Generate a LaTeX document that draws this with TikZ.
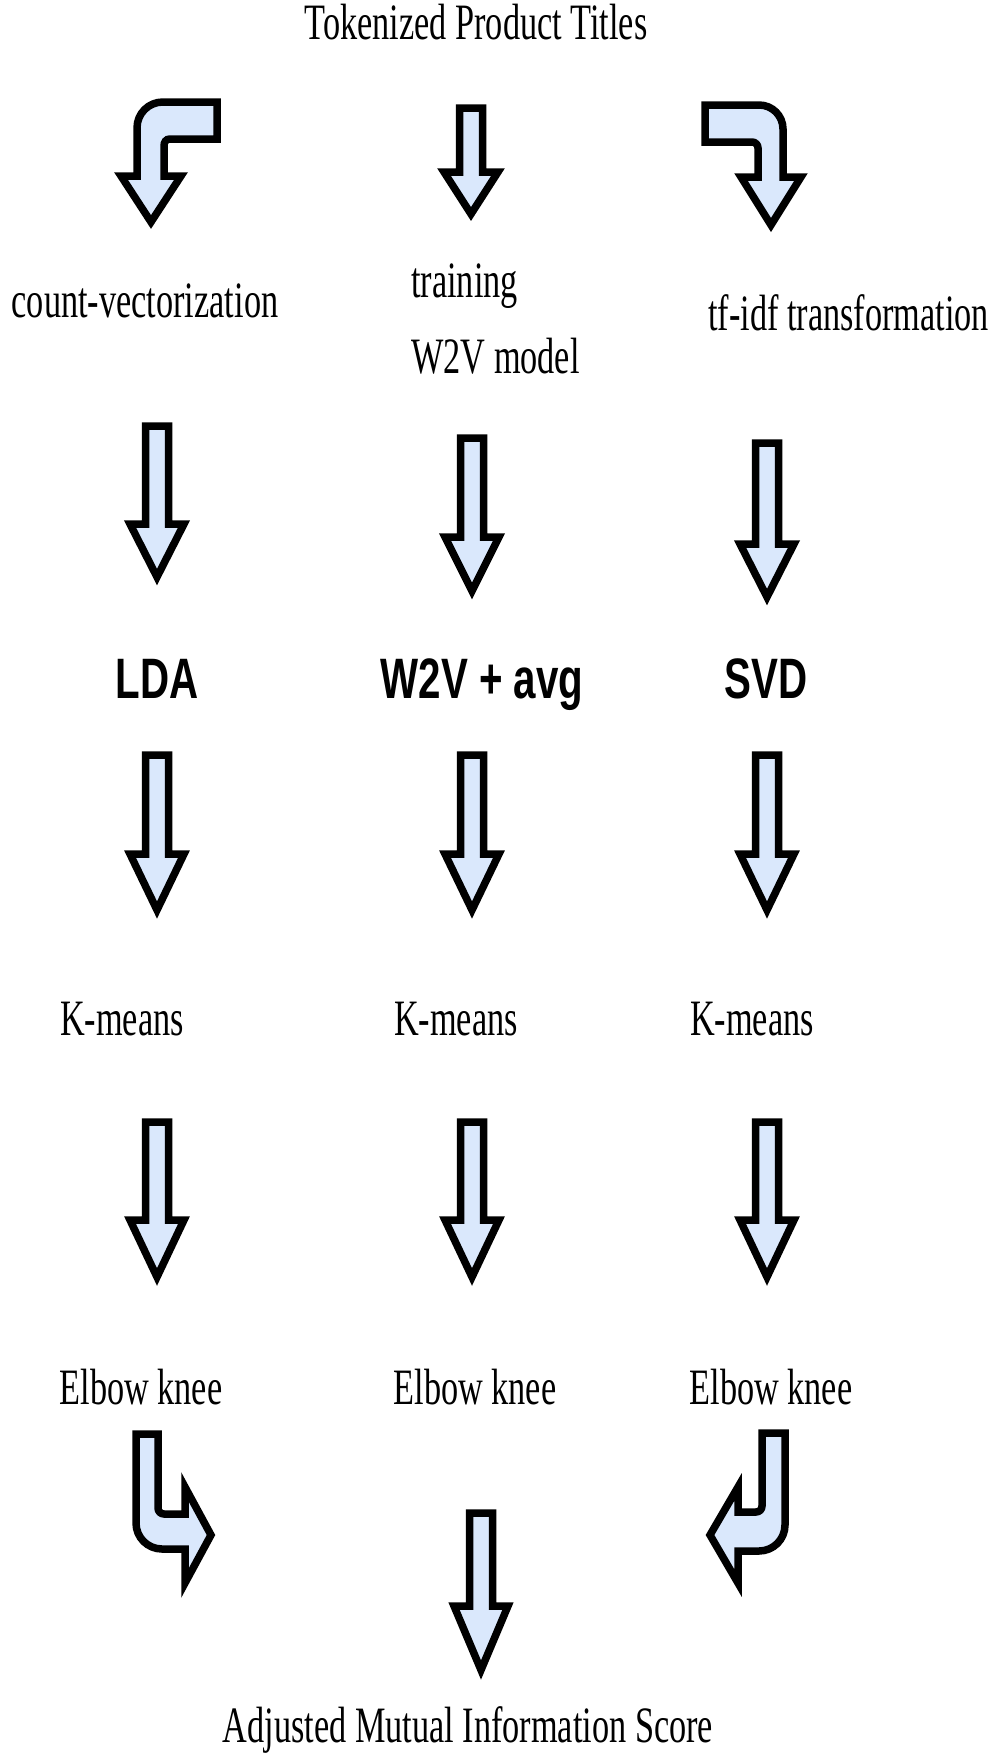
\documentclass[tikz,border=0pt]{standalone}
\usepackage{fontspec}
\setmainfont{Liberation Serif}
\newfontfamily\labelfont[FakeStretch=0.672]{Liberation Serif}
\newfontfamily\methodfont[FakeStretch=0.707]{Liberation Sans Bold}
\definecolor{arrowfill}{HTML}{DAE8FC}

\tikzset{
  blockarrow/.style={draw=black, fill=arrowfill, line width=7.5pt, line join=miter, miter limit=10},
  steplabel/.style={font=\labelfont\fontsize{51}{60}\selectfont, inner sep=0pt, anchor=base},
  methodlabel/.style={font=\methodfont\fontsize{57}{68}\selectfont, inner sep=0pt, anchor=base},
}

% straight block arrow pointing down: centre x, top y, head start y, tip y
\newcommand\downblock[4]{%
  \draw[blockarrow] (#1-11.5,#2) -- (#1+11.5,#2) -- (#1+11.5,#3) -- (#1+27,#3)
    -- (#1,#4) -- (#1-27,#3) -- (#1-11.5,#3) -- cycle;}

\begin{document}
\begin{tikzpicture}[x=1pt, y=-1pt]
\useasboundingbox (0,0) rectangle (996,1753);

% labels
\node[steplabel] (tokens) at (476,40) {Tokenized Product Titles};
\node[steplabel] (countvec) at (145,317) {count-vectorization};
\node[steplabel, anchor=base west] (training) at (411,297) {training};
\node[steplabel, anchor=base west] (w2vmodel) at (411,373) {W2V model};
\node[steplabel] (tfidf) at (848.5,330) {tf-idf transformation};

\node[methodlabel] (lda) at (157,698) {LDA};
\node[methodlabel] (w2vavg) at (482,698) {W2V + avg};
\node[methodlabel] (svd) at (766,698) {SVD};

\node[steplabel] (kmeansA) at (122,1035) {K-means};
\node[steplabel] (kmeansB) at (456,1035) {K-means};
\node[steplabel] (kmeansC) at (752,1035) {K-means};

\node[steplabel] (elbowA) at (141,1404) {Elbow knee};
\node[steplabel] (elbowB) at (475,1404) {Elbow knee};
\node[steplabel] (elbowC) at (771,1404) {Elbow knee};

\node[steplabel] (ami) at (468,1742) {Adjusted Mutual Information Score};

% bent arrow: tokens -> count-vectorization
\draw[blockarrow] (217,102) -- (163,102) .. controls (148.6,102) and (137,113.4) .. (137,128)
  -- (137,176) -- (121,176) -- (151,222) -- (181,176) -- (164,176) -- (164,146)
  .. controls (164,142) and (166,139) .. (170,139) -- (217,139) -- cycle;

% straight arrow: tokens -> training W2V model
\downblock{471}{108}{172}{214}

% bent arrow: tokens -> tf-idf transformation
\draw[blockarrow] (705,105) -- (759,105) .. controls (772.3,105) and (783,115.7) .. (783,129)
  -- (783,177) -- (801,177) -- (771,225) -- (741,177) -- (758,177) -- (758,148)
  .. controls (758,144.7) and (755.3,142) .. (752,142) -- (705,142) -- cycle;

% second row of arrows
\downblock{157}{426}{524}{577}
\downblock{472}{438}{537}{591}
\downblock{767}{443}{544}{597}

% third row of arrows
\downblock{157}{755}{854}{910}
\downblock{472}{755}{854}{910}
\downblock{767}{755}{854}{910}

% fourth row of arrows
\downblock{157}{1122}{1220}{1277}
\downblock{472}{1122}{1220}{1277}
\downblock{767}{1122}{1220}{1277}

% bent arrow: left elbow knee -> score
\draw[blockarrow] (136,1434) -- (136,1523) .. controls (136,1537.4) and (147.6,1549) .. (162,1549)
  -- (185,1549) -- (185,1583) -- (211,1535) -- (185,1487) -- (185,1514)
  -- (164,1514) .. controls (160.7,1514) and (158,1511.3) .. (158,1508) -- (158,1434) -- cycle;

% bent arrow: right elbow knee -> score
\draw[blockarrow] (785,1433) -- (785,1525) .. controls (785,1539.4) and (773.4,1551) .. (759,1551)
  -- (738,1551) -- (738,1583) -- (710,1535) -- (738,1487) -- (738,1512)
  -- (756,1512) .. controls (759.3,1512) and (762,1509.3) .. (762,1506) -- (762,1433) -- cycle;

% straight arrow: middle elbow knee -> score
\downblock{481}{1513}{1606}{1670}

\end{tikzpicture}
\end{document}
